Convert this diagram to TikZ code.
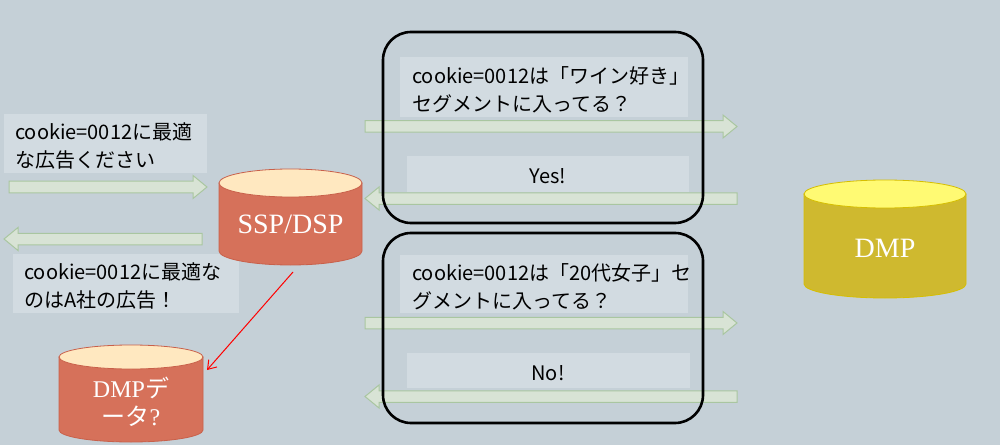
\documentclass[tikz,border=0pt]{standalone}
\usepackage{fontspec}
\setmainfont{Liberation Serif}
\newfontfamily\cjk{Noto Sans CJK JP}
\usetikzlibrary{arrows.meta}
\definecolor{bgc}{RGB}{197,208,215}
\definecolor{boxc}{RGB}{210,219,225}
\definecolor{arrf}{RGB}{216,227,213}
\definecolor{arrd}{RGB}{169,198,160}
\definecolor{sspbody}{RGB}{214,113,90}
\definecolor{sspline}{RGB}{200,96,74}
\definecolor{ssptop}{RGB}{255,232,192}
\definecolor{dmpbody}{RGB}{207,185,47}
\definecolor{dmpline}{RGB}{214,190,0}
\definecolor{dmptop}{RGB}{255,250,115}
\tikzset{
  txtbox/.style={fill=boxc, draw=none},
  jtext/.style={font=\cjk\fontsize{20}{28}\selectfont, align=left, inner sep=0pt, text=black},
  blockarr/.style={fill=arrf, draw=arrd, line width=1pt, line join=miter},
  frame/.style={draw=black, line width=2.6pt, rounded corners=28pt},
  cyltext/.style={text=white, inner sep=0pt, align=center},
}
\newcommand\rarr[3]{\draw[blockarr] (#1,{#3-5.75}) -- ({#2-14},{#3-5.75}) -- ({#2-14},{#3-11.5}) -- (#2,#3) -- ({#2-14},{#3+11.5}) -- ({#2-14},{#3+5.75}) -- (#1,{#3+5.75}) -- cycle;}
\newcommand\larr[3]{\draw[blockarr] (#2,{#3-5.75}) -- ({#1+14},{#3-5.75}) -- ({#1+14},{#3-11.5}) -- (#1,#3) -- ({#1+14},{#3+11.5}) -- ({#1+14},{#3+5.75}) -- (#2,{#3+5.75}) -- cycle;}
\begin{document}
\begin{tikzpicture}[x=1pt,y=1pt]
\useasboundingbox (0,0) rectangle (1000,445);
\fill[bgc] (0,0) rectangle (1000,445);

% left text boxes
\fill[txtbox] (4,272) rectangle (207,331);
\node[jtext, anchor=west] (q1) at (15,299) {cookie=0012に最適\\な広告ください};
\fill[txtbox] (13,132) rectangle (239,191);
\node[jtext, anchor=west] (a1) at (24,159) {cookie=0012に最適な\\のはA社の広告！};
\rarr{9}{207}{258}
\larr{4}{202}{206}

% top group
\fill[txtbox] (400,328) rectangle (688,388);
\node[jtext, anchor=west] (q2) at (412,355) {cookie=0012は「ワイン好き」\\セグメントに入ってる？};
\fill[txtbox] (407,253) rectangle (689,289);
\node[jtext] (yes) at (548,269) {Yes!};
\rarr{365}{737}{318.5}
\larr{365}{737}{246.5}

% bottom group
\fill[txtbox] (400,132) rectangle (688,190);
\node[jtext, anchor=west] (q3) at (412,158) {cookie=0012は「20代女子」セ\\グメントに入ってる？};
\fill[txtbox] (407,57) rectangle (690,92);
\node[jtext] (no) at (548,72) {No!};
\rarr{365}{737}{122}
\larr{365}{737}{48.5}

% frames
\draw[frame] (383,222) rectangle (703,413);
\draw[frame] (383,22) rectangle (703,212);

% SSP/DSP cylinder
\draw[fill=sspbody, draw=sspline, line width=0.8pt] (219,262) -- (219,194) arc[start angle=180, end angle=360, x radius=71.5, y radius=14] -- (362,262) -- cycle;
\draw[fill=ssptop, draw=sspline, line width=0.8pt] (290.5,262) ellipse [x radius=71.5, y radius=14];
\node[cyltext, font=\fontsize{28}{30}\selectfont] (ssp) at (290.5,221) {SSP/DSP};

% DMP data cylinder
\draw[fill=sspbody, draw=sspline, line width=0.8pt] (59,88) -- (59,15) arc[start angle=180, end angle=360, x radius=72, y radius=12] -- (203,88) -- cycle;
\draw[fill=ssptop, draw=sspline, line width=0.8pt] (131,88) ellipse [x radius=72, y radius=12];
\node[cyltext, font=\fontsize{24}{28}\selectfont] (dmpq) at (131,43) {DMP{\cjk デ}\\{\cjk ータ}?};

% DMP cylinder
\draw[fill=dmpbody, draw=dmpline, line width=0.8pt] (804,251) -- (804,161) arc[start angle=180, end angle=360, x radius=81, y radius=14] -- (966,251) -- cycle;
\draw[fill=dmptop, draw=dmpline, line width=0.8pt] (885,251) ellipse [x radius=81, y radius=14];
\node[cyltext, font=\fontsize{28}{30}\selectfont] (dmp) at (885,197) {DMP};

% red arrow
\coordinate (rs) at (293,173);
\coordinate (re) at (207,75);
\draw[red, line width=1pt, -{Straight Barb[length=8pt,width=11pt]}] (rs) -- (re);
\end{tikzpicture}
\end{document}
